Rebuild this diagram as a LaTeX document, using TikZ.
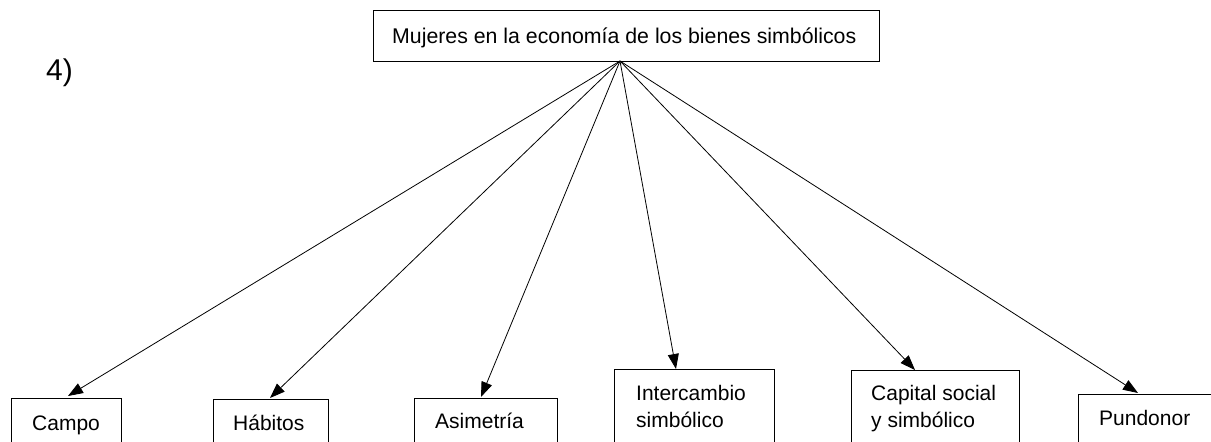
\documentclass[tikz,border=0pt]{standalone}
\usepackage{fontspec}
\setmainfont{Liberation Sans}
\usetikzlibrary{arrows.meta}
\begin{document}
\begin{tikzpicture}[x=1pt,y=-1pt,
  box/.style={draw=black,line width=0.9pt,anchor=north west,inner sep=0pt},
  lbl/.style={anchor=base west,inner sep=0pt,font=\fontsize{21}{27}\selectfont,align=left},
  conn/.style={line width=0.8pt,-{Triangle[length=15pt,width=11pt]}}]
\useasboundingbox (0,0) rectangle (1211,442);
\clip (0,0) rectangle (1211,442);
% boxes
\node[box,minimum width=506pt,minimum height=51pt] (top) at (373,10) {};
\node[box,minimum width=110pt,minimum height=80pt] (campo) at (11,398) {};
\node[box,minimum width=115pt,minimum height=80pt] (habitos) at (213,399) {};
\node[box,minimum width=143pt,minimum height=80pt] (asim) at (414,398) {};
\node[box,minimum width=160pt,minimum height=110pt] (inter) at (614,369) {};
\node[box,minimum width=168pt,minimum height=110pt] (capital) at (851,370) {};
\node[box,minimum width=160pt,minimum height=80pt] (pund) at (1078,394) {};
% labels
\node[lbl,font=\fontsize{21.3}{27}\selectfont] (ttop) at (392,43) {Mujeres en la economía de los bienes simbólicos};
\node[lbl] (tcampo) at (32,430) {Campo};
\node[lbl] (thab) at (233,430) {Hábitos};
\node[lbl] (tasim) at (435,428) {Asimetría};
\node[lbl] (tinter) at (636,427) {Intercambio\\simbólico};
\node[lbl] (tcap) at (871,427) {Capital social\\y simbólico};
\node[lbl] (tpund) at (1099,425) {Pundonor};
\node[anchor=base west,inner sep=0pt,font=\fontsize{30}{36}\selectfont] (num) at (46,80) {4)};
% connectors
\coordinate (apex) at (620,61);
\coordinate (e1) at (68,396);
\coordinate (e2) at (270,398);
\coordinate (e3) at (481,397);
\coordinate (e4) at (676,369);
\coordinate (e5) at (915,370);
\coordinate (e6) at (1138,393);
\foreach \e in {e1,e2,e3,e4,e5,e6} \draw[conn] (apex) -- (\e);
\end{tikzpicture}
\end{document}
